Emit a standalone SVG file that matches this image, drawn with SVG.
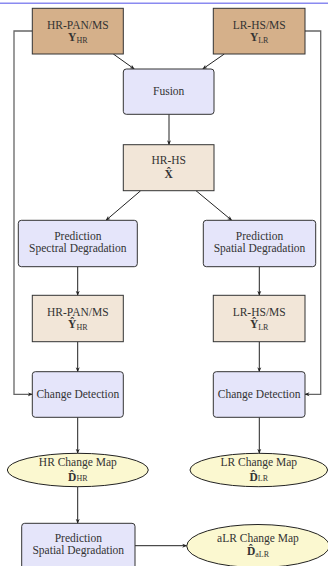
<svg xmlns="http://www.w3.org/2000/svg" width="328" height="566" viewBox="0 0 328 566">
<style>
text{font-family:"Liberation Serif","DejaVu Serif",serif;font-size:11.5px;fill:#333;text-anchor:middle}
.b{font-weight:bold}
.s{font-size:8px}
.tan{fill:#d5b08a;stroke:#333;stroke-width:1}
.lin{fill:#f2e6d8;stroke:#333;stroke-width:1}
.blu{fill:#e5e5fa;stroke:#333;stroke-width:1}
.ell{fill:#fbf8d0;stroke:#222;stroke-width:1}
.c{fill:none;stroke:#222;stroke-width:1;marker-end:url(#ah)}
.g{fill:none;stroke:#666;stroke-width:1.3;marker-end:url(#ah)}
</style>
<defs>
<marker id="ah" viewBox="0 0 10 10" refX="9" refY="5" markerWidth="5" markerHeight="5" orient="auto" markerUnits="userSpaceOnUse">
<path d="M0,1 L10,5 L0,9 L3,5 Z" fill="#222"/>
</marker>
</defs>
<rect x="0" y="2.5" width="328" height="1.5" fill="#8a8af0"/>
<g id="connectors">
<path class="c" d="M113.3,54 L134.3,69"/>
<path class="c" d="M224.3,54 L202.7,69"/>
<path class="c" d="M169,114.3 L169,144.7"/>
<path class="c" d="M140.7,190.7 L106,220.3"/>
<path class="c" d="M196,190.7 L231.7,220.3"/>
<path class="c" d="M77.7,266.7 L77.7,295.3"/>
<path class="c" d="M259.3,266.7 L259.3,295.3"/>
<path class="c" d="M77.7,341.7 L77.7,371.7"/>
<path class="c" d="M259.3,341.7 L259.3,371.7"/>
<path class="c" d="M77.7,417.3 L77.7,453.3"/>
<path class="c" d="M259.3,417.3 L259.3,453.3"/>
<path class="c" d="M77.7,486.7 L77.7,523.3"/>
<path class="c" d="M135,545.7 L186.7,545.7"/>
<path class="g" d="M32.3,31 L14,31 L14,394.3 L32.3,394.3"/>
<path class="g" d="M305,31 L320.7,31 L320.7,394.3 L305,394.3"/>
</g>
<g id="hr-panms">
<rect class="tan" x="32.3" y="8.3" width="91" height="45.7"/>
<text x="77.8" y="29">HR-PAN/MS</text>
<text x="77.8" y="41"><tspan class="b">Y</tspan><tspan class="s" dy="1.5">HR</tspan></text>
</g>
<g id="lr-hsms">
<rect class="tan" x="213.3" y="8.3" width="91.7" height="45.7"/>
<text x="259.2" y="29">LR-HS/MS</text>
<text x="259.2" y="41"><tspan class="b">Y</tspan><tspan class="s" dy="1.5">LR</tspan></text>
</g>
<g id="fusion">
<rect class="blu" x="123.3" y="69" width="90.7" height="45.3" rx="3"/>
<text x="168.7" y="95">Fusion</text>
</g>
<g id="hr-hs">
<rect class="lin" x="123.3" y="144.7" width="90.7" height="46"/>
<text x="168.7" y="164">HR-HS</text>
<text x="168.7" y="177.5" class="b">X̂</text>
</g>
<g id="pred-spectral">
<rect class="blu" x="18.3" y="220.3" width="119" height="46.4" rx="3"/>
<text x="77.8" y="239.5">Prediction</text>
<text x="77.8" y="251.5">Spectral Degradation</text>
</g>
<g id="pred-spatial">
<rect class="blu" x="203.3" y="220.3" width="112.4" height="46.4" rx="3"/>
<text x="259.5" y="239.5">Prediction</text>
<text x="259.5" y="251.5">Spatial Degradation</text>
</g>
<g id="hr-panms-hat">
<rect class="lin" x="32.3" y="295.3" width="91" height="46.4"/>
<text x="77.8" y="316">HR-PAN/MS</text>
<text x="77.8" y="328"><tspan class="b">Ŷ</tspan><tspan class="s" dy="1.5">HR</tspan></text>
</g>
<g id="lr-hsms-hat">
<rect class="lin" x="213.3" y="295.3" width="91.7" height="46.4"/>
<text x="259.2" y="316">LR-HS/MS</text>
<text x="259.2" y="328"><tspan class="b">Ŷ</tspan><tspan class="s" dy="1.5">LR</tspan></text>
</g>
<g id="cd-hr">
<rect class="blu" x="32.3" y="371.7" width="91" height="45.6" rx="3"/>
<text x="77.8" y="397.5">Change Detection</text>
</g>
<g id="cd-lr">
<rect class="blu" x="213.3" y="371.7" width="91.7" height="45.6" rx="3"/>
<text x="259.2" y="397.5">Change Detection</text>
</g>
<g id="hr-map">
<ellipse class="ell" cx="77.8" cy="470" rx="70.5" ry="16.7"/>
<text x="77.8" y="466">HR Change Map</text>
<text x="77.8" y="481"><tspan class="b">D̂</tspan><tspan class="s">HR</tspan></text>
</g>
<g id="lr-map">
<ellipse class="ell" cx="258.8" cy="470" rx="68.8" ry="16.7"/>
<text x="258.8" y="466">LR Change Map</text>
<text x="258.8" y="481"><tspan class="b">D̂</tspan><tspan class="s">LR</tspan></text>
</g>
<g id="pred-spatial-2">
<rect class="blu" x="21.7" y="523.3" width="113.3" height="46.4" rx="3"/>
<text x="78.3" y="541.5">Prediction</text>
<text x="78.3" y="554">Spatial Degradation</text>
</g>
<g id="alr-map">
<ellipse class="ell" cx="258" cy="546" rx="71.3" ry="21.5"/>
<text x="258" y="541.5">aLR Change Map</text>
<text x="258" y="555"><tspan class="b">D̂</tspan><tspan class="s" dy="1.5">aLR</tspan></text>
</g>
</svg>
